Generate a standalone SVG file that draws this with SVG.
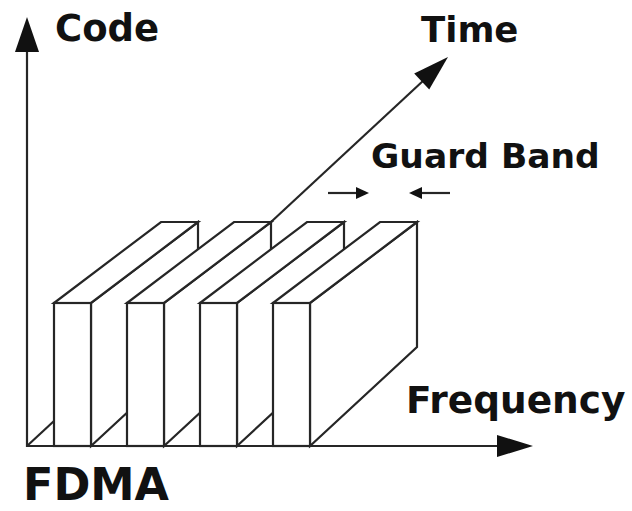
<svg xmlns="http://www.w3.org/2000/svg" width="632" height="511" viewBox="0 0 632 511">
<style>
.ln{fill:none;stroke:#262626;stroke-width:2.2;stroke-linejoin:miter;stroke-linecap:butt}
.face{fill:#ffffff;stroke:#262626;stroke-width:2.2;stroke-linejoin:miter}
.hd{fill:#111111;stroke:none}
.lbl{font-family:"DejaVu Sans","Liberation Sans",sans-serif;font-weight:bold;fill:#111111}
</style>
<rect width="632" height="511" fill="#ffffff"/>
<g id="origin-edge">
<line class="ln" x1="27" y1="446" x2="54" y2="421"/>
</g>
<g id="block1">
<polygon class="face" points="91,303 198,222 198,347 91,446"/>
<polygon class="face" points="54,303 91,303 198,222 161,222"/>
<rect class="face" x="54" y="303" width="37" height="143"/>
</g>
<g id="block2">
<polygon class="face" points="164,303 271,222 271,347 164,446"/>
<polygon class="face" points="127,303 164,303 271,222 234,222"/>
<rect class="face" x="127" y="303" width="37" height="143"/>
</g>
<g id="block3">
<polygon class="face" points="237,303 344,222 344,347 237,446"/>
<polygon class="face" points="200,303 237,303 344,222 307,222"/>
<rect class="face" x="200" y="303" width="37" height="143"/>
</g>
<g id="block4">
<polygon class="face" points="310,303 417,222 417,347 310,446"/>
<polygon class="face" points="273,303 310,303 417,222 380,222"/>
<rect class="face" x="273" y="303" width="37" height="143"/>
</g>
<g id="connectors">
<line class="ln" x1="27" y1="447" x2="27" y2="50"/>
<polygon class="hd" points="27,17 39,52 15,52"/>
<line class="ln" x1="26" y1="446" x2="499" y2="446"/>
<polygon class="hd" points="533,446 497,435 497,457"/>
<line class="ln" x1="271" y1="222" x2="424" y2="80"/>
<polygon class="hd" points="448,57 429.2,89.5 414.2,73.5"/>
<line class="ln" x1="328" y1="193" x2="360" y2="193"/>
<polygon class="hd" points="369,193 356,187 356,199"/>
<line class="ln" x1="418" y1="193" x2="450" y2="193"/>
<polygon class="hd" points="409,193 422,187 422,199"/>
</g>
<g id="label-code"><text class="lbl" x="55" y="41" font-size="37">Code</text></g>
<g id="label-time"><text class="lbl" x="421" y="42" font-size="35.5">Time</text></g>
<g id="label-guard"><text class="lbl" x="371" y="168" font-size="34.5">Guard Band</text></g>
<g id="label-frequency"><text class="lbl" x="406" y="413" font-size="37.5">Frequency</text></g>
<g id="label-fdma"><text class="lbl" x="23" y="500" font-size="44.5">FDMA</text></g>
</svg>
